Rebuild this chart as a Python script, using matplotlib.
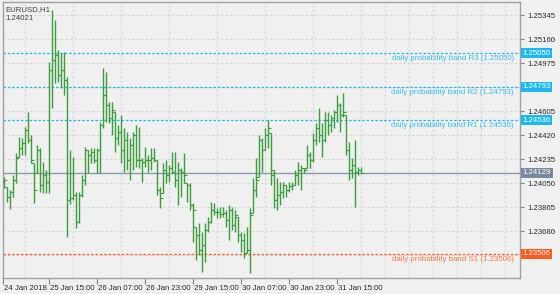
import numpy as np
import matplotlib
matplotlib.use("Agg")
import matplotlib.pyplot as plt
import matplotlib.transforms as mtrans

# EURUSD H1 bars, 24 Jan 2018 23:00 .. 31 Jan 2018 23:00
opens = [1.24073, 1.24058, 1.24019, 1.23942, 1.23981, 1.24073, 1.24251, 1.24320, 1.24359, 1.24459,
         1.24382, 1.24204, 1.24127, 1.24305, 1.24035, 1.24112, 1.24058, 1.24921, 1.24998, 1.25037,
         1.24883, 1.24921, 1.24844, 1.23919, 1.23934, 1.23958, 1.23749, 1.23958, 1.24073, 1.24305,
         1.24266, 1.24289, 1.24227, 1.24305, 1.24497, 1.24729, 1.24651, 1.24551, 1.24598, 1.24397,
         1.24443, 1.24305, 1.24382, 1.24227, 1.24343, 1.24420, 1.24227, 1.24227, 1.24212, 1.24227,
         1.24227, 1.24243, 1.24227, 1.23996, 1.23973, 1.24150, 1.24112, 1.24166, 1.24135, 1.24073,
         1.24150, 1.24135, 1.24050, 1.24035, 1.23880, 1.23711, 1.23649, 1.23534, 1.23572, 1.23688,
         1.23749, 1.23842, 1.23827, 1.23827, 1.23811, 1.23819, 1.23765, 1.23842, 1.23726, 1.23788,
         1.23649, 1.23611, 1.23510, 1.23534, 1.23819, 1.23996, 1.24096, 1.24382, 1.24305, 1.24420,
         1.24436, 1.24150, 1.23919, 1.23958, 1.23981, 1.24035, 1.23996, 1.24027, 1.24035, 1.24112,
         1.24150, 1.24166, 1.24166, 1.24266, 1.24227, 1.24382, 1.24474, 1.24420, 1.24382, 1.24536,
         1.24497, 1.24551, 1.24598, 1.24651, 1.24574, 1.24574, 1.24305, 1.24150, 1.24189, 1.24135,
         1.24150]
highs = [1.24104, 1.24096, 1.24019, 1.23996, 1.24112, 1.24281, 1.24405, 1.24397, 1.24482, 1.24598,
         1.24420, 1.24204, 1.24343, 1.24320, 1.24212, 1.24150, 1.24983, 1.25384, 1.25307, 1.25076,
         1.25052, 1.25060, 1.24867, 1.24305, 1.24251, 1.23981, 1.23981, 1.24112, 1.24328, 1.24305,
         1.24320, 1.24320, 1.24320, 1.24520, 1.24937, 1.24906, 1.24675, 1.24675, 1.24598, 1.24497,
         1.24574, 1.24474, 1.24443, 1.24397, 1.24443, 1.24497, 1.24482, 1.24243, 1.24328, 1.24266,
         1.24320, 1.24320, 1.24227, 1.24019, 1.24204, 1.24227, 1.24189, 1.24289, 1.24289, 1.24212,
         1.24166, 1.24281, 1.24050, 1.24050, 1.23896, 1.23711, 1.23742, 1.23672, 1.23742, 1.23788,
         1.23904, 1.23896, 1.23857, 1.23865, 1.23865, 1.23842, 1.23880, 1.23865, 1.23842, 1.23788,
         1.23672, 1.23665, 1.23711, 1.23857, 1.24089, 1.24243, 1.24420, 1.24397, 1.24474, 1.24536,
         1.24436, 1.24150, 1.24089, 1.24058, 1.24058, 1.24035, 1.24058, 1.24058, 1.24150, 1.24212,
         1.24189, 1.24166, 1.24343, 1.24289, 1.24436, 1.24513, 1.24628, 1.24513, 1.24598, 1.24598,
         1.24574, 1.24613, 1.24729, 1.24667, 1.24744, 1.24574, 1.24366, 1.24243, 1.24382, 1.24173,
         1.24173]
lows = [1.24027, 1.24012, 1.23904, 1.23850, 1.23942, 1.24050, 1.24251, 1.24266, 1.24266, 1.24359,
        1.24204, 1.23896, 1.24127, 1.23981, 1.23973, 1.23973, 1.23973, 1.24628, 1.24821, 1.24829,
        1.24783, 1.24729, 1.23634, 1.23888, 1.23919, 1.23703, 1.23742, 1.23942, 1.24035, 1.24127,
        1.24204, 1.24204, 1.24127, 1.24127, 1.24474, 1.24520, 1.24513, 1.24420, 1.24289, 1.24343,
        1.24204, 1.24135, 1.24150, 1.24073, 1.24150, 1.24173, 1.24166, 1.24058, 1.24173, 1.24135,
        1.24150, 1.24212, 1.23958, 1.23857, 1.23973, 1.24050, 1.24058, 1.24127, 1.24019, 1.23880,
        1.23942, 1.24050, 1.23904, 1.23842, 1.23595, 1.23456, 1.23495, 1.23364, 1.23441, 1.23672,
        1.23742, 1.23803, 1.23780, 1.23780, 1.23788, 1.23711, 1.23611, 1.23688, 1.23672, 1.23595,
        1.23518, 1.23472, 1.23510, 1.23356, 1.23819, 1.23942, 1.24096, 1.24135, 1.24305, 1.24320,
        1.24035, 1.23857, 1.23842, 1.23880, 1.23934, 1.23942, 1.23981, 1.23996, 1.24035, 1.24035,
        1.23996, 1.24127, 1.24166, 1.24166, 1.24212, 1.24343, 1.24366, 1.24251, 1.24366, 1.24420,
        1.24443, 1.24474, 1.24520, 1.24443, 1.24559, 1.24266, 1.24073, 1.24089, 1.23865, 1.24112,
        1.24127]
closes = [1.24058, 1.24073, 1.23942, 1.23981, 1.24073, 1.24243, 1.24320, 1.24359, 1.24459, 1.24382,
          1.24227, 1.23996, 1.24305, 1.24035, 1.24112, 1.24058, 1.24921, 1.24998, 1.25037, 1.24883,
          1.24921, 1.24844, 1.23919, 1.23934, 1.23958, 1.23749, 1.23958, 1.24073, 1.24305, 1.24266,
          1.24289, 1.24227, 1.24305, 1.24497, 1.24729, 1.24651, 1.24551, 1.24613, 1.24397, 1.24443,
          1.24305, 1.24382, 1.24227, 1.24343, 1.24420, 1.24227, 1.24227, 1.24212, 1.24227, 1.24227,
          1.24243, 1.24227, 1.23996, 1.23934, 1.24150, 1.24112, 1.24166, 1.24135, 1.24073, 1.24150,
          1.24135, 1.24112, 1.24035, 1.23880, 1.23842, 1.23649, 1.23534, 1.23572, 1.23688, 1.23749,
          1.23842, 1.23827, 1.23827, 1.23811, 1.23819, 1.23765, 1.23842, 1.23726, 1.23803, 1.23649,
          1.23611, 1.23510, 1.23534, 1.23803, 1.23996, 1.24073, 1.24382, 1.24305, 1.24420, 1.24474,
          1.24112, 1.23919, 1.23958, 1.23981, 1.24035, 1.23996, 1.24027, 1.24035, 1.24112, 1.24150,
          1.24166, 1.24150, 1.24266, 1.24227, 1.24382, 1.24474, 1.24420, 1.24382, 1.24536, 1.24497,
          1.24551, 1.24598, 1.24651, 1.24574, 1.24598, 1.24305, 1.24150, 1.24189, 1.24135, 1.24150,
          1.24129]

symbol_text = "EURUSD,H1"
info_value = "1.24021"
bid = 1.24129

band_names = ["daily probability band R3", "daily probability band R2",
              "daily probability band R1", "daily probability band S1"]
band_levels = [1.25050, 1.24793, 1.24536, 1.23506]
band_colors = ["#1eb8f0", "#1eb8f0", "#1eb8f0", "#ff5a1f"]
text_colors = ["#36bdf0", "#36bdf0", "#36bdf0", "#ff7444"]

price_ticks = [1.23495, 1.23680, 1.23865, 1.24050, 1.24235, 1.24420,
               1.24605, 1.24790, 1.24975, 1.25160, 1.25345]
# labels hidden behind the price boxes on the chart are left blank
price_labels = ["", "1.23680", "1.23865", "1.24050", "1.24235", "1.24420",
                "1.24605", "", "1.24975", "1.25160", "1.25345"]
time_ticks = [0.7, 16, 32, 48, 64, 80, 96, 112]
time_labels = ["24 Jan 2018", "25 Jan 15:00", "26 Jan 07:00", "26 Jan 23:00",
               "29 Jan 15:00", "30 Jan 07:00", "30 Jan 23:00", "31 Jan 15:00"]

bg = "#f0f0f0"
bar_color = "#3a9e3a"
font = "Liberation Sans"
fs = 5.6

fig = plt.figure(figsize=(5.6, 2.94), dpi=100, facecolor=bg)
ax = fig.add_axes([3 / 560, 16 / 294, 517 / 560, 276 / 294])
ax.set_facecolor(bg)

idx = np.arange(len(closes))
ax.vlines(idx, lows, highs, color=bar_color, lw=1.0, zorder=3)
ax.hlines(opens, idx - 1, idx, color=bar_color, lw=0.8, zorder=3)
ax.hlines(closes, idx, idx + 1, color=bar_color, lw=0.8, zorder=3)

ax.set_xlim(0.667, 173)
ax.set_ylim(1.23318, 1.25446)

# grid
ax.set_yticks(price_ticks)
ax.set_xticks(np.arange(8, 173, 8), minor=True)
ax.grid(True, which="major", axis="y", color="#d4d4d4", ls=(0, (2, 2)), lw=0.8, zorder=0)
ax.grid(True, which="minor", axis="x", color="#d4d4d4", ls=(0, (2, 2)), lw=0.8, zorder=0)

ax.yaxis.tick_right()
ax.tick_params(axis="y", which="major", length=3, width=0.8, color="#808080",
               pad=2, labelsize=fs, labelcolor="#2a2a2a")
ax.set_yticklabels(price_labels, fontfamily=font)

ax.set_xticks(time_ticks)
ax.set_xticklabels(time_labels, fontfamily=font, ha="left")
ax.tick_params(axis="x", which="major", length=4, width=0.8, color="#808080",
               pad=1, labelsize=fs, labelcolor="#2a2a2a")
ax.tick_params(axis="x", which="minor", length=0)
offset = mtrans.ScaledTranslation(1 / 100, 0, fig.dpi_scale_trans)
for lbl in ax.get_xticklabels():
    lbl.set_transform(lbl.get_transform() + offset)

for sp in ax.spines.values():
    sp.set_color("#a0a0a0")
    sp.set_linewidth(1.0)

trans = mtrans.blended_transform_factory(ax.transAxes, ax.transData)

# bid line
ax.axhline(bid, color="#8899aa", lw=1.0, zorder=2)
ax.text(1.005, bid, f"{bid:.5f}", transform=trans, ha="left", va="center",
        fontsize=fs, fontfamily=font, color="white", zorder=6, clip_on=False,
        bbox=dict(boxstyle="square,pad=0.2", fc="#7a8a9c", ec="none"))

# probability bands
for name, lvl, lc, tc in zip(band_names, band_levels, band_colors, text_colors):
    ax.axhline(lvl, color=lc, lw=0.9, ls=(0, (2, 1.5)), zorder=2)
    ax.annotate(f"{name} ({lvl:.5f})", xy=(0.988, lvl), xycoords=trans,
                xytext=(0, -1.5), textcoords="offset points", ha="right", va="top",
                fontsize=fs + 0.1, fontfamily=font, color=tc, zorder=5)
    ax.text(1.005, lvl, f"{lvl:.5f}", transform=trans, ha="left", va="center",
            fontsize=fs, fontfamily=font, color="white", zorder=6, clip_on=False,
            bbox=dict(boxstyle="square,pad=0.2", fc=lc, ec="none"))

ax.text(0.004, 0.985, symbol_text, transform=ax.transAxes, ha="left", va="top",
        fontsize=fs, fontfamily=font, color="#404040")
ax.text(0.004, 0.952, info_value, transform=ax.transAxes, ha="left", va="top",
        fontsize=fs, fontfamily=font, color="#404040")

fig.savefig("out.png", dpi=100, facecolor=bg)
